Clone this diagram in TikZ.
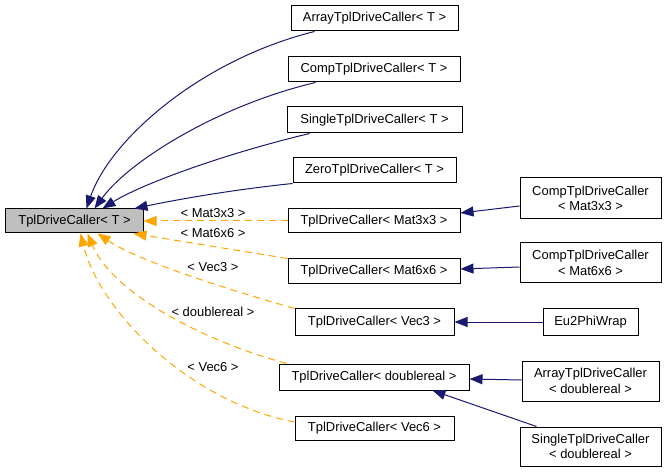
\documentclass[tikz,border=0pt]{standalone}
\usepackage{fontspec}
\setmainfont{Liberation Sans}
\usetikzlibrary{arrows.meta}
\definecolor{navyedge}{HTML}{191970}
\definecolor{orangeedge}{HTML}{FFA500}
\definecolor{basegray}{HTML}{BFBFBF}
\begin{document}
\begin{tikzpicture}[x=1bp,y=-1bp,
  cls/.style={draw=black, line width=1bp, inner sep=0pt, font=\fontsize{13}{15.5}\selectfont, align=center},
  inherit/.style={draw=navyedge, line width=1bp, -{Triangle[length=13bp,width=10bp]}},
  tmpl/.style={draw=orangeedge, line width=1bp, dash pattern=on 7bp off 5bp, -{Triangle[length=13bp,width=10bp]}},
  lbl/.style={font=\fontsize{13}{15}\selectfont, inner sep=0pt}]
\useasboundingbox (0,0) rectangle (667,472);
% nodes
\node[cls, fill=basegray, minimum width=137bp, minimum height=24bp] (base) at (74.5,221) {TplDriveCaller< T >};
\node[cls, minimum width=167bp, minimum height=25bp] (A) at (374.5,18.5) {ArrayTplDriveCaller< T >};
\node[cls, minimum width=172bp, minimum height=25bp] (C) at (374,69.5) {CompTplDriveCaller< T >};
\node[cls, minimum width=175bp, minimum height=26bp] (S) at (374.5,120) {SingleTplDriveCaller< T >};
\node[cls, minimum width=163bp, minimum height=25bp] (Z) at (374.5,170.5) {ZeroTplDriveCaller< T >};
\node[cls, minimum width=172bp, minimum height=24bp] (M3) at (374,221) {TplDriveCaller< Mat3x3 >};
\node[cls, minimum width=172bp, minimum height=25bp] (M6) at (374,271.5) {TplDriveCaller< Mat6x6 >};
\node[cls, minimum width=159bp, minimum height=26bp] (V3) at (374.5,322) {TplDriveCaller< Vec3 >};
\node[cls, minimum width=190bp, minimum height=26bp] (D) at (374,377) {TplDriveCaller< doublereal >};
\node[cls, minimum width=159bp, minimum height=24bp] (V6) at (374.5,428) {TplDriveCaller< Vec6 >};
\node[cls, minimum width=141bp, minimum height=41bp] (CM3) at (590.5,198.5) {CompTplDriveCaller\\< Mat3x3 >};
\node[cls, minimum width=141bp, minimum height=40bp] (CM6) at (590.5,263) {CompTplDriveCaller\\< Mat6x6 >};
\node[cls, minimum width=95bp, minimum height=26bp] (Eu) at (590.5,322) {Eu2PhiWrap};
\node[cls, minimum width=137bp, minimum height=40bp] (AD) at (590.5,381) {ArrayTplDriveCaller\\< doublereal >};
\node[cls, minimum width=141bp, minimum height=39bp] (SD) at (590.5,446.5) {SingleTplDriveCaller\\< doublereal >};
% inheritance edges to base
\draw[inherit] ([xshift=24bp]A.south west) .. controls (200,60) and (110,140) .. ([xshift=81bp]base.north west);
\draw[inherit] ([xshift=28bp]C.south west) .. controls (220,105) and (130,160) .. ([xshift=89bp]base.north west);
\draw[inherit] ([xshift=23bp]S.south west) .. controls (220,155) and (140,185) .. ([xshift=97bp]base.north west);
\draw[inherit] (Z.south west) .. controls (230,190) and (175,200) .. ([xshift=129bp]base.north west);
% template edges
\draw[tmpl] (M3.west) -- (base.east);
\draw[tmpl] (M6.north west) -- ([xshift=-10bp]base.south east);
\draw[tmpl] (V3.north west) .. controls (230,290) and (140,262) .. ([xshift=92bp]base.south west);
\draw[tmpl] ([xshift=8bp]D.north west) .. controls (200,340) and (112,292) .. ([xshift=82bp]base.south west);
\draw[tmpl] ([yshift=6bp]V6.west) .. controls (190,402) and (100,312) .. ([xshift=75bp]base.south west);
\node[lbl] (l1) at (213,213) {< Mat3x3 >};
\node[lbl] (l2) at (213,233) {< Mat6x6 >};
\node[lbl] (l3) at (213,267) {< Vec3 >};
\node[lbl] (l4) at (213,312) {< doublereal >};
\node[lbl] (l5) at (213,367) {< Vec6 >};
% right side inheritance
\draw[inherit] ([yshift=-7.5bp]CM3.west) -- ([yshift=8bp]M3.east);
\draw[inherit] ([yshift=-4bp]CM6.west) -- ([yshift=2.5bp]M6.east);
\draw[inherit] (Eu.west) -- (V3.east);
\draw[inherit] ([yshift=1bp]AD.west) -- ([yshift=-2bp]D.east);
\draw[inherit] ([xshift=17bp]SD.north west) -- ([xshift=154bp]D.south west);
\end{tikzpicture}
\end{document}
